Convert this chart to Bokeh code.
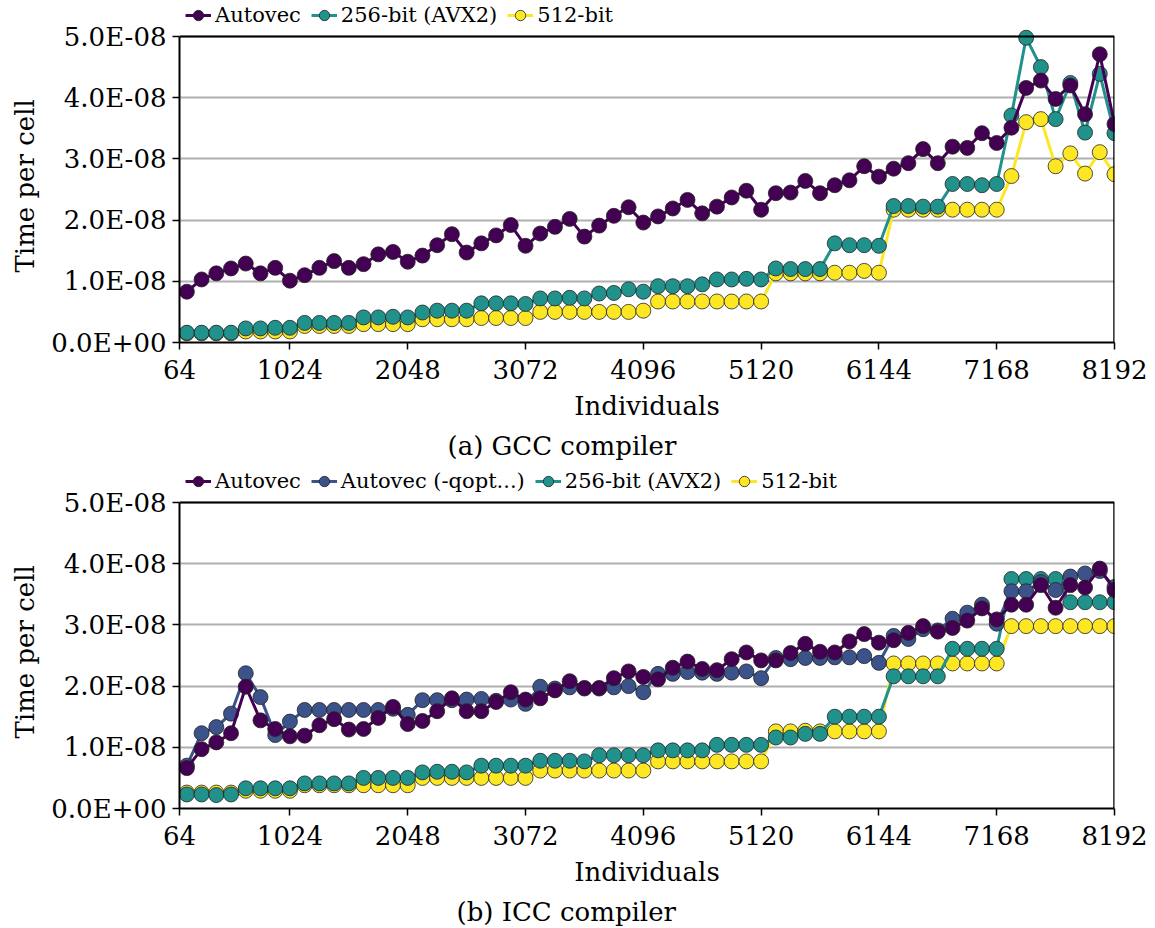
from bokeh.plotting import figure
from bokeh.models import Range1d, FixedTicker, CustomJSTickFormatter, Legend, LegendItem, Title, Span
from bokeh.layouts import column
from bokeh.embed import file_html
from bokeh.resources import INLINE

FONT = "DejaVu Serif"

# x: number of individuals
individuals = list(range(128, 8193, 128))
x_ticks = [64, 1024, 2048, 3072, 4096, 5120, 6144, 7168, 8192]
y_ticks = [0, 1e-8, 2e-8, 3e-8, 4e-8, 5e-8]

# ---- (a) GCC compiler, time per cell in units of 1e-8 s ----
gcc_autovec = [0.83, 1.03, 1.13, 1.21, 1.29, 1.13, 1.22, 1.01, 1.10, 1.22, 1.33, 1.22, 1.28, 1.44, 1.48, 1.32,
               1.42, 1.59, 1.77, 1.47, 1.62, 1.75, 1.92, 1.58, 1.78, 1.89, 2.02, 1.73, 1.91, 2.07, 2.21, 1.96,
               2.06, 2.19, 2.33, 2.11, 2.22, 2.37, 2.48, 2.17, 2.44, 2.45, 2.64, 2.44, 2.57, 2.65, 2.88, 2.71,
               2.84, 2.93, 3.16, 2.93, 3.20, 3.18, 3.42, 3.26, 3.51, 4.16, 4.28, 3.98, 4.20, 3.73, 4.71, 3.57]
gcc_avx2 = [0.16, 0.16, 0.16, 0.16, 0.23, 0.23, 0.24, 0.24, 0.32, 0.32, 0.32, 0.32, 0.41, 0.41, 0.42, 0.41,
            0.49, 0.52, 0.52, 0.52, 0.64, 0.64, 0.64, 0.63, 0.72, 0.72, 0.73, 0.72, 0.80, 0.81, 0.87, 0.83,
            0.92, 0.92, 0.92, 0.95, 1.03, 1.03, 1.04, 1.03, 1.21, 1.20, 1.20, 1.20, 1.62, 1.59, 1.59, 1.58,
            2.23, 2.23, 2.22, 2.22, 2.59, 2.59, 2.57, 2.59, 3.71, 4.98, 4.50, 3.65, 4.24, 3.43, 4.39, 3.42]
gcc_512 = [0.15, 0.15, 0.15, 0.15, 0.18, 0.18, 0.18, 0.18, 0.27, 0.27, 0.27, 0.27, 0.30, 0.30, 0.30, 0.30,
           0.38, 0.38, 0.38, 0.38, 0.40, 0.40, 0.40, 0.40, 0.50, 0.50, 0.50, 0.50, 0.50, 0.50, 0.50, 0.52,
           0.67, 0.67, 0.67, 0.67, 0.67, 0.67, 0.67, 0.67, 1.13, 1.13, 1.13, 1.13, 1.14, 1.14, 1.17, 1.14,
           2.17, 2.17, 2.17, 2.17, 2.17, 2.17, 2.17, 2.17, 2.72, 3.60, 3.65, 2.88, 3.09, 2.76, 3.11, 2.75]

# ---- (b) ICC compiler ----
icc_autovec = [0.66, 0.97, 1.08, 1.23, 1.99, 1.44, 1.30, 1.18, 1.19, 1.36, 1.46, 1.29, 1.30, 1.48, 1.66, 1.38,
               1.43, 1.59, 1.80, 1.59, 1.59, 1.74, 1.90, 1.78, 1.80, 1.93, 2.08, 1.97, 1.97, 2.13, 2.24, 2.15,
               2.11, 2.30, 2.40, 2.28, 2.26, 2.44, 2.55, 2.42, 2.42, 2.54, 2.69, 2.56, 2.55, 2.73, 2.85, 2.71,
               2.75, 2.87, 2.98, 2.89, 2.95, 3.07, 3.27, 3.09, 3.33, 3.33, 3.65, 3.28, 3.65, 3.61, 3.92, 3.57]
icc_qopt = [0.70, 1.23, 1.33, 1.55, 2.21, 1.82, 1.20, 1.42, 1.61, 1.61, 1.61, 1.61, 1.61, 1.61, 1.63, 1.53,
            1.77, 1.77, 1.77, 1.78, 1.79, 1.76, 1.78, 1.71, 1.99, 1.96, 1.98, 1.96, 1.96, 1.98, 2.00, 1.90,
            2.20, 2.20, 2.23, 2.22, 2.20, 2.22, 2.24, 2.13, 2.46, 2.44, 2.46, 2.46, 2.47, 2.47, 2.49, 2.38,
            2.82, 2.77, 2.93, 2.91, 3.10, 3.20, 3.33, 3.02, 3.55, 3.55, 3.70, 3.57, 3.79, 3.84, 3.88, 3.62]
icc_avx2 = [0.23, 0.23, 0.22, 0.23, 0.33, 0.33, 0.33, 0.33, 0.41, 0.41, 0.41, 0.41, 0.50, 0.50, 0.50, 0.50,
            0.59, 0.60, 0.60, 0.59, 0.70, 0.70, 0.70, 0.70, 0.78, 0.78, 0.78, 0.77, 0.87, 0.87, 0.87, 0.87,
            0.95, 0.95, 0.95, 0.95, 1.04, 1.04, 1.04, 1.04, 1.16, 1.16, 1.22, 1.22, 1.50, 1.50, 1.50, 1.50,
            2.16, 2.16, 2.16, 2.16, 2.61, 2.61, 2.61, 2.61, 3.75, 3.75, 3.75, 3.75, 3.37, 3.37, 3.37, 3.37]
icc_512 = [0.26, 0.26, 0.26, 0.26, 0.29, 0.29, 0.29, 0.29, 0.38, 0.38, 0.38, 0.38, 0.38, 0.38, 0.38, 0.38,
           0.50, 0.50, 0.50, 0.50, 0.50, 0.50, 0.50, 0.50, 0.62, 0.62, 0.62, 0.62, 0.62, 0.62, 0.62, 0.62,
           0.77, 0.77, 0.77, 0.77, 0.77, 0.77, 0.77, 0.77, 1.26, 1.26, 1.27, 1.26, 1.26, 1.26, 1.26, 1.26,
           2.37, 2.37, 2.37, 2.37, 2.37, 2.37, 2.37, 2.37, 2.98, 2.98, 2.98, 2.98, 2.98, 2.98, 2.98, 2.98]

SCALE = 1e-8

C_AUTO = "#440154"
C_QOPT = "#3b528b"
C_AVX2 = "#21918c"
C_512 = "#fde725"

yfmt = CustomJSTickFormatter(code="""
if (tick == 0) return "0.0E+00";
var e = Math.floor(Math.log10(Math.abs(tick)) + 1e-9);
var m = tick / Math.pow(10, e);
var a = Math.abs(e);
var s = (a < 10 ? "0" : "") + a;
return m.toFixed(1) + "E" + (e < 0 ? "-" : "+") + s;
""")

PLOT_H = 306      # height of the data area in px
LEG_H = 32        # extra room above the data area for the legend


def make_fig(series, caption, caption_offset, mbb):
    y_top = y_ticks[-1]
    p = figure(frame_width=935, frame_height=PLOT_H + LEG_H, min_border_left=178, min_border_right=42,
               min_border_top=4, min_border_bottom=mbb,
               x_range=Range1d(x_ticks[0], x_ticks[-1]),
               y_range=Range1d(0, y_top * (PLOT_H + LEG_H) / PLOT_H),
               output_backend="svg", toolbar_location=None)
    p.outline_line_color = None
    p.xgrid.visible = False
    p.ygrid.grid_line_color = "#b0b0b0"
    p.ygrid.grid_line_width = 2
    p.xaxis.ticker = FixedTicker(ticks=x_ticks)
    p.yaxis.ticker = FixedTicker(ticks=y_ticks)
    p.yaxis.formatter = yfmt
    p.yaxis.bounds = (0, y_top)
    for ax in (p.xaxis, p.yaxis):
        ax.axis_line_width = 2
        ax.axis_line_color = "black"
        ax.major_tick_line_width = 1.5
        ax.major_tick_line_color = "black"
        ax.major_tick_out = 7
        ax.major_tick_in = 0
        ax.minor_tick_line_color = None
        ax.major_label_text_font = FONT
        ax.major_label_text_font_size = "26px"
        ax.major_label_text_color = "black"
        ax.axis_label_text_font = FONT
        ax.axis_label_text_font_size = "26px"
        ax.axis_label_text_font_style = "normal"
        ax.axis_label_text_color = "black"
    p.xaxis.axis_label = "Individuals"
    p.xaxis.major_label_standoff = 10
    p.yaxis.major_label_standoff = 6
    p.xaxis.axis_label_standoff = 9

    # y-axis label, centred on the data area (not on the legend room above it)
    p.add_layout(Title(text="Time per cell", align="left", offset=70, vertical_align="middle",
                       text_font=FONT, text_font_size="26px", text_font_style="normal",
                       text_color="black", standoff=16), "left")

    items = {}
    for name, vals, color in reversed(series):
        ys = [v * SCALE for v in vals]
        r1 = p.line(individuals, ys, line_color=color, line_width=3)
        r2 = p.scatter(individuals, ys, size=15, fill_color=color, line_color="#222222", line_width=0.8)
        items[name] = [r1, r2]

    # top and right spines of the data area
    p.add_layout(Span(location=y_top, dimension="width", line_color="black", line_width=2))
    p.segment(x0=[x_ticks[-1]], y0=[0], x1=[x_ticks[-1]], y1=[y_top], line_color="black", line_width=2.5)

    legend = Legend(items=[LegendItem(label=n, renderers=items[n]) for n, _, _ in series],
                    orientation="horizontal", location=(6, PLOT_H + 6),
                    background_fill_alpha=0, border_line_alpha=0, padding=0, margin=0,
                    spacing=10, glyph_width=26, glyph_height=30, label_standoff=4,
                    label_text_font=FONT, label_text_font_size="21px", label_text_color="black",
                    label_height=30)
    p.add_layout(legend)
    p.add_layout(Title(text=caption, align="left", offset=caption_offset, text_font=FONT,
                       text_font_size="26px", text_font_style="normal", text_color="black",
                       standoff=11), "below")
    return p


p1 = make_fig([("Autovec", gcc_autovec, C_AUTO),
               ("256-bit (AVX2)", gcc_avx2, C_AVX2),
               ("512-bit", gcc_512, C_512)], "(a) GCC compiler", 268, 122)
p2 = make_fig([("Autovec", icc_autovec, C_AUTO),
               ("Autovec (-qopt...)", icc_qopt, C_QOPT),
               ("256-bit (AVX2)", icc_avx2, C_AVX2),
               ("512-bit", icc_512, C_512)], "(b) ICC compiler", 277, 118)

layout = column(p1, p2, spacing=0)
open("out.html", "w").write(file_html(layout, INLINE))
